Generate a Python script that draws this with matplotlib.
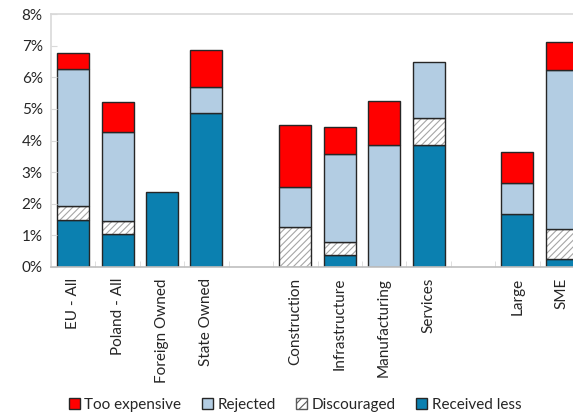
import matplotlib
matplotlib.use("Agg")
import matplotlib.pyplot as plt
from matplotlib.patches import Patch
import numpy as np

plt.rcParams['font.family'] = ['Lato', 'DejaVu Sans']
plt.rcParams['hatch.linewidth'] = 0.8

categories = ["EU - All", "Poland - All", "Foreign Owned", "State Owned", "",
              "Construction", "Infrastructure", "Manufacturing", "Services", "",
              "Large", "SME"]
received_less = [1.50, 1.03, 2.37, 4.86, 0, 0.00, 0.38, 0.00, 3.87, 0, 1.67, 0.24]
discouraged   = [0.42, 0.43, 0.00, 0.00, 0, 1.28, 0.40, 0.00, 0.85, 0, 0.00, 0.95]
rejected      = [4.35, 2.82, 0.00, 0.83, 0, 1.24, 2.80, 3.85, 1.76, 0, 0.98, 5.04]
too_expensive = [0.50, 0.93, 0.00, 1.18, 0, 1.96, 0.84, 1.39, 0.00, 0, 0.99, 0.88]
yticks = [0, 1, 2, 3, 4, 5, 6, 7, 8]

c_red = "#FF0000"
c_light = "#B3CDE3"
c_dark = "#0B80B0"
c_hatch = "#A6A6A6"
edge = "#262626"

fig = plt.figure(figsize=(5.73, 4.13), dpi=100)
ax = fig.add_axes([51/573, 1-267/413, 533/573, 253/413])

x = np.arange(len(categories))
mask = np.array([c != "" for c in categories])
xs = x[mask]
rl = np.array(received_less)[mask]
di = np.array(discouraged)[mask]
rj = np.array(rejected)[mask]
te = np.array(too_expensive)[mask]
w = 0.72

def bars(bottom, h, color, hatch=None):
    sel = h > 0
    if hatch:
        ax.bar(xs[sel], h[sel], bottom=bottom[sel], width=w, color="white",
               edgecolor=c_hatch, hatch=hatch, linewidth=0)
        ax.bar(xs[sel], h[sel], bottom=bottom[sel], width=w, fill=False,
               edgecolor=edge, linewidth=1.0)
    else:
        ax.bar(xs[sel], h[sel], bottom=bottom[sel], width=w, color=color,
               edgecolor=edge, linewidth=1.0)

b0 = np.zeros_like(rl)
bars(b0, rl, c_dark)
bars(b0 + rl, di, None, hatch="/////")
bars(b0 + rl + di, rj, c_light)
bars(b0 + rl + di + rj, te, c_red)

ax.set_xlim(-0.5, len(categories) - 0.5)
ax.set_ylim(0, 8)
ax.set_yticks(yticks)
ax.set_yticklabels([f"{v}%" for v in yticks], fontsize=11, color="#262626")
ax.set_xticks(xs)
ax.set_xticklabels([c for c in categories if c], rotation=90, fontsize=11, color="#262626")
ax.tick_params(axis='x', length=0, pad=8)
ax.tick_params(axis='y', length=4, color="#D9D9D9", direction='in', pad=6)
ax.set_xticks(np.arange(-0.5, len(categories), 1), minor=True)
ax.tick_params(axis='x', which='minor', length=4, color="#D9D9D9", direction='in')

for s in ["left", "top", "right"]:
    ax.spines[s].set_color("#D9D9D9")
    ax.spines[s].set_linewidth(1.2)
ax.spines["bottom"].set_color("#BFBFBF")
ax.spines["bottom"].set_linewidth(1.2)

handles = [Patch(facecolor=c_red, edgecolor=edge),
           Patch(facecolor=c_light, edgecolor=edge),
           Patch(facecolor="white", edgecolor="#595959", hatch="////"),
           Patch(facecolor=c_dark, edgecolor=edge)]
labels = ["Too expensive", "Rejected", "Discouraged", "Received less"]
leg = fig.legend(handles, labels, loc="lower center", bbox_to_anchor=(0.515, -0.03),
                 ncol=4, frameon=False, fontsize=11, handlelength=0.7, handleheight=0.7,
                 columnspacing=1.35, handletextpad=0.3)
for t in leg.get_texts():
    t.set_color("#262626")

fig.savefig("out.png", dpi=100)
